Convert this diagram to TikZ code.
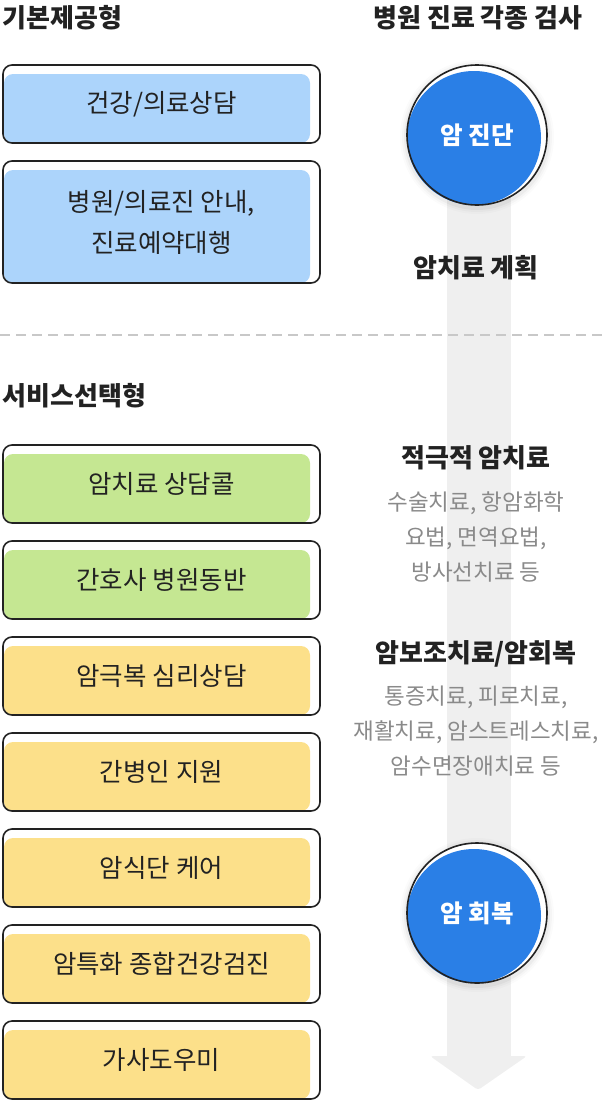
\documentclass[tikz,border=0pt]{standalone}
\usepackage{fontspec}
\setmainfont{Noto Sans CJK KR}
\definecolor{boxblue}{HTML}{ACD4FB}
\definecolor{boxgreen}{HTML}{C5E792}
\definecolor{boxyellow}{HTML}{FCE08A}
\definecolor{stageblue}{HTML}{2A7FE6}
\definecolor{inkdark}{HTML}{222222}
\definecolor{inkgray}{HTML}{8A8A8A}
\definecolor{bandgray}{HTML}{EFEFEF}
\definecolor{dashgray}{HTML}{C8C8C8}
\begin{document}
\begin{tikzpicture}[x=1pt, y=-1pt, line width=1.6pt,
    outerbox/.style={draw=inkdark, rounded corners=9pt, minimum width=317pt,
      minimum height=78pt, align=center, text=inkdark,
      font=\fontsize{25.5}{41}\selectfont},
    stage/.style={circle, draw=inkdark, minimum size=140pt, text=white,
      font=\bfseries\fontsize{24.5}{28}\selectfont},
    heading/.style={text=inkdark, font=\bfseries\fontsize{26}{30}\selectfont},
    detail/.style={text=inkgray, align=center, font=\fontsize{22.5}{35}\selectfont}]

    \useasboundingbox (0,0) rectangle (602,1100);

    % process band with arrow head
    \coordinate (tip) at (478,1090);
    \fill[bandgray] (447,135) rectangle (511,1058);
    \fill[bandgray, rounded corners=3pt] (430,1056) -- (527,1056) -- (tip) -- cycle;

    \draw[dashgray, line width=2pt, dash pattern=on 10pt off 6pt] (0,335) -- (602,335);

    \node[heading, anchor=west, inner sep=0pt] (basic) at (2,18) {기본제공형};
    \node[heading] (exam) at (478,18) {병원 진료 각종 검사};
    \node[heading, anchor=west, inner sep=0pt] (choice) at (2,396) {서비스선택형};

    % boxes: colour fill shifted down and left
    \fill[boxblue, rounded corners=9pt] (4,74) rectangle (310,143);
    \node[outerbox] (consult) at (161.5,104) {건강/의료상담};
    \fill[boxblue, rounded corners=9pt] (4,170) rectangle (310,283);
    \node[outerbox, minimum height=122pt] (guide) at (161.5,222) {병원/의료진 안내,\\진료예약대행};

    \foreach \name/\ty/\col/\txt in {call/445/boxgreen/암치료 상담콜,
        escort/541/boxgreen/간호사 병원동반,
        mind/637/boxyellow/암극복 심리상담,
        carer/733/boxyellow/간병인 지원,
        diet/829/boxyellow/암식단 케어,
        checkup/925/boxyellow/암특화 종합건강검진,
        house/1021/boxyellow/가사도우미} {
      \fill[\col, rounded corners=9pt] (4,\ty+9) rectangle (310,\ty+78);
      \node[outerbox] (\name) at (161.5,\ty+39) {\txt};
    }

    % stages on the band
    \foreach \name/\cy/\txt in {diag/135/암 진단, recov/913/암 회복} {
      \foreach \r/\o in {77/0.015, 75/0.025, 73/0.035} {
        \fill[black, opacity=\o] (477,\cy+2) circle (\r);
      }
      \fill[white] (477,\cy) circle (70);
      \fill[stageblue] (474,\cy+3) circle (67);
      \node[stage] (\name) at (477,\cy) {\txt};
    }

    \node[heading] (plan) at (476,268) {암치료 계획};
    \node[heading] (active) at (476,458) {적극적 암치료};
    \node[detail] (activetxt) at (476,537) {수술치료, 항암화학\\요법, 면역요법,\\방사선치료 등};
    \node[heading] (support) at (476,654) {암보조치료/암회복};
    \node[detail] (supporttxt) at (476,731) {통증치료, 피로치료,\\재활치료, 암스트레스치료,\\암수면장애치료 등};

\end{tikzpicture}
\end{document}
